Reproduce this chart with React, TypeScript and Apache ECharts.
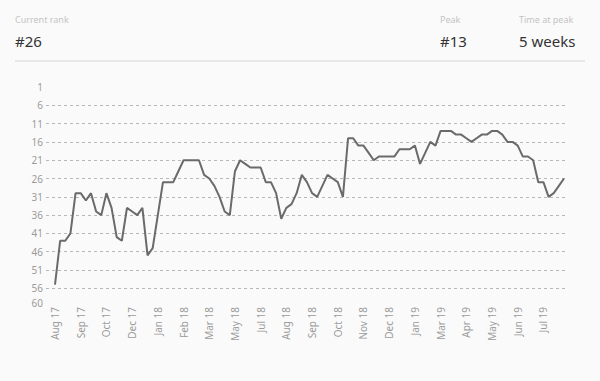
import React, { useEffect, useRef } from "react";
import * as echarts from "echarts";

const ranks = [
  55, 43, 43, 41, 30, 30, 32, 30, 35, 36,
  30, 34, 42, 43, 34, 35, 36, 34, 47, 45,
  36, 27, 27, 27, 24, 21, 21, 21, 21, 25,
  26, 28, 31, 35, 36, 24, 21, 22, 23, 23,
  23, 27, 27, 30, 37, 34, 33, 30, 25, 27,
  30, 31, 28, 25, 26, 27, 31, 15, 15, 17,
  17, 19, 21, 20, 20, 20, 20, 18, 18, 18,
  17, 22, 19, 16, 17, 13, 13, 13, 14, 14,
  15, 16, 15, 14, 14, 13, 13, 14, 16, 16,
  17, 20, 20, 21, 27, 27, 31, 30, 28, 26,
];

const xTickLabels = [
  "Aug 17", "Sep 17", "Oct 17", "Dec 17", "Jan 18", "Feb 18", "Mar 18",
  "May 18", "Jul 18", "Aug 18", "Sep 18", "Oct 18", "Nov 18", "Dec 18",
  "Jan 19", "Mar 19", "Apr 19", "May 19", "Jun 19", "Jul 19",
];

const statLabels = ["Current rank", "Peak", "Time at peak"];
const statValues = ["#26", "#13", "5 weeks"];

const FONT = "'Noto Sans', 'Open Sans', sans-serif";

export default function App() {
  const ref = useRef<HTMLDivElement>(null);

  useEffect(() => {
    if (!ref.current) return;
    const chart = echarts.init(ref.current, undefined, { renderer: "svg" });
    const statX = [15, 440, 519];
    const graphics: any[] = [];
    statLabels.forEach((t, k) => {
      graphics.push({
        type: "text",
        left: statX[k],
        top: 15,
        style: { text: t, fill: "#c4c4c4", fontSize: 9, fontFamily: FONT },
      });
      graphics.push({
        type: "text",
        left: statX[k],
        top: 33,
        style: { text: statValues[k], fill: "#333333", fontSize: 15, fontFamily: FONT },
      });
    });
    graphics.push({
      type: "rect",
      shape: { x: 15, y: 60, width: 570, height: 2 },
      style: { fill: "#e8e8e8" },
    });

    chart.setOption({
      animation: false,
      backgroundColor: "#fafafa",
      textStyle: { fontFamily: FONT },
      graphic: graphics,
      grid: [
        { left: 46, right: 32, top: 87, bottom: 78 },
        { left: 55, right: 36, top: 87, bottom: 78 },
      ],
      xAxis: [
        { type: "value", gridIndex: 0, min: 0, max: 1, show: false },
        {
          type: "category",
          gridIndex: 1,
          boundaryGap: false,
          data: ranks.map((_, i) => String(i)),
          axisLine: { show: false },
          axisTick: { show: false },
          splitLine: { show: false },
          axisLabel: {
            rotate: 90,
            interval: 4,
            margin: 4,
            fontSize: 10,
            color: "#9a9a9a",
            fontFamily: FONT,
            formatter: (_v: string, idx: number) => xTickLabels[Math.round(idx / 5)] ?? "",
          },
        },
      ],
      yAxis: [
        {
          type: "value",
          gridIndex: 0,
          inverse: true,
          min: 0,
          max: 59,
          interval: 5,
          axisLine: { show: false },
          axisTick: { show: false },
          axisLabel: {
            margin: 3,
            fontSize: 10,
            color: "#9a9a9a",
            fontFamily: FONT,
            formatter: (v: number) => String(v + 1),
          },
          splitLine: {
            show: true,
            showMinLine: false,
            showMaxLine: false,
            lineStyle: { color: "#b8b8b8", type: [3, 3], width: 1 },
          },
        },
        {
          type: "value",
          gridIndex: 1,
          inverse: true,
          min: 1,
          max: 60,
          show: false,
          splitLine: { show: false },
        },
      ],
      series: [
        {
          type: "line",
          xAxisIndex: 1,
          yAxisIndex: 1,
          data: ranks,
          showSymbol: false,
          symbol: "none",
          lineStyle: { color: "#6a6a6a", width: 2 },
        },
      ],
    });
    return () => chart.dispose();
  }, []);

  return (
    <div
      ref={ref}
      style={{ position: "absolute", left: 0, top: 0, width: 600, height: 381, background: "#fafafa" }}
    />
  );
}
